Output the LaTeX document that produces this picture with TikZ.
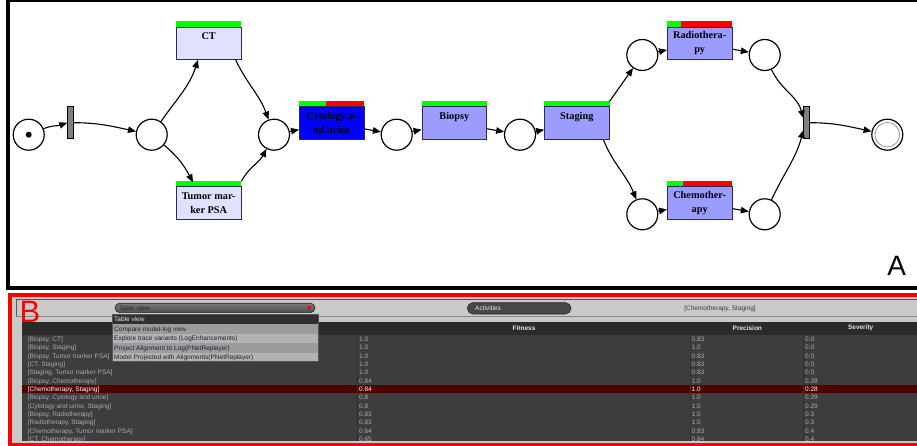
\documentclass[tikz,border=0pt]{standalone}
\usepackage{fontspec}
\setmainfont{Liberation Serif}
\newfontfamily\uifont{Liberation Sans}
\usetikzlibrary{arrows.meta,calc}
\definecolor{lavlight}{HTML}{E0E0FF}
\definecolor{lavmid}{HTML}{9C9CFF}
\definecolor{pureblue}{HTML}{0000FF}
\definecolor{boxborder}{HTML}{2A2A5A}
\definecolor{bargreen}{HTML}{00FF00}
\definecolor{barred}{HTML}{FF0000}
\definecolor{bargray}{HTML}{808080}
\definecolor{panelgray}{HTML}{C9C9C9}
\definecolor{linegray}{HTML}{555555}
\definecolor{thead}{HTML}{2B2B2B}
\definecolor{rowbg}{HTML}{3D3D3D}
\definecolor{hilite}{HTML}{520000}
\definecolor{sepcol}{HTML}{333333}
\definecolor{rowtext}{HTML}{A8AAB8}
\definecolor{valtext}{HTML}{ABABAB}
\definecolor{hdrtext}{HTML}{E4E4E4}
\definecolor{menudark}{HTML}{303030}
\definecolor{menumid}{HTML}{9C9C9C}
\definecolor{menulight}{HTML}{B3B3B3}
\definecolor{menutext}{HTML}{20202E}
\definecolor{pilltop}{HTML}{7A7A7A}
\definecolor{pillbot}{HTML}{4C4C4C}
\definecolor{pillborder}{HTML}{2A2A2A}
\definecolor{actfill}{HTML}{474747}
\definecolor{labeltext}{HTML}{3A3A4E}
\newcommand{\fitbar}[2]{%
  \fill[bargreen] (#1.north west) rectangle ($(#1.north west)!#2!(#1.north east)+(0,5.3)$);
  \fill[barred] ($(#1.north west)!#2!(#1.north east)$) rectangle ($(#1.north east)+(0,5.3)$);}
\begin{document}
\begin{tikzpicture}[x=1pt,y=1pt,
  place/.style={circle,draw=black,line width=1.2pt,fill=white,minimum size=31pt,inner sep=0pt},
  trans/.style={rectangle,draw=boxborder,line width=0.9pt,minimum width=64.5pt,minimum height=32.3pt,
    inner sep=0pt,align=center,font=\bfseries\fontsize{10.3}{14.3}\selectfont},
  tbar/.style={rectangle,draw=black,fill=bargray,line width=0.8pt,minimum width=5.3pt,minimum height=32pt,inner sep=0pt},
  arc/.style={-{Triangle[length=8pt,width=6.5pt]},line width=1.1pt},
  ui/.style={font=\uifont\fontsize{6.5}{7}\selectfont,inner sep=0pt},
  rowlab/.style={ui,text=rowtext,anchor=mid west},
  rowval/.style={ui,text=valtext,anchor=mid west},
  hdr/.style={ui,text=hdrtext,font=\uifont\bfseries\fontsize{6.5}{7}\selectfont},
  menuitem/.style={ui,text=menutext,anchor=mid west},
  biglabel/.style={font=\uifont\fontsize{28}{30}\selectfont,inner sep=0pt}]
\useasboundingbox (0,0) rectangle (917,-446);
\clip (0,0) rectangle (917,-446);
\fill[white] (0,0) rectangle (917,-446);

% ---------------- Panel A ----------------
\draw[line width=3.5pt] (8,-0.5) rectangle (925,-288);

\node[place] (p0) at (28.7,-134.7) {};
\node[circle,fill=black,minimum size=6pt,inner sep=0pt] (tok) at (p0) {};
\node[tbar] (t1) at (70.3,-122.7) {};
\node[place] (p1) at (151.7,-134.7) {};
\node[trans,fill=lavlight] (ct) at (208.7,-43.3) {CT\\~};
\node[trans,fill=lavlight] (tum) at (208.7,-202.9) {Tumor mar-\\ker PSA};
\node[place] (p2) at (274,-134.7) {};
\node[trans,fill=pureblue] (cyt) at (331.7,-123) {Cytology a-\\nd urine};
\node[place] (p3) at (396.7,-134.7) {};
\node[trans,fill=lavmid] (bio) at (454.3,-123) {Biopsy\\~};
\node[place] (p4) at (520,-134.7) {};
\node[trans,fill=lavmid] (stg) at (576.8,-123) {Staging\\~};
\node[place] (p5) at (642.3,-55) {};
\node[place] (p6) at (642.3,-214.3) {};
\node[trans,fill=lavmid] (rad) at (699.7,-43.3) {Radiothera-\\py};
\node[trans,fill=lavmid] (chm) at (699.7,-202.9) {Chemother-\\apy};
\node[place] (p7) at (764.7,-55) {};
\node[place] (p8) at (764.7,-214.3) {};
\node[tbar] (t2) at (806.5,-122.7) {};
\node[place] (pend) at (887.3,-134.7) {};
\draw[line width=0.6pt,gray] (pend) circle (12.3pt);

\fitbar{ct}{1}
\fitbar{tum}{1}
\fitbar{cyt}{0.42}
\fitbar{bio}{1}
\fitbar{stg}{1}
\fitbar{rad}{0.22}
\fitbar{chm}{0.25}

\draw[arc] (p0) to[out=22,in=200] (t1.west);
\draw[arc] (t1.east) to[out=0,in=168] (p1);
\draw[arc] (p1) to[out=55,in=-108] ([xshift=-10.7pt]ct.south);
\draw[arc] (p1) to[out=-40,in=118] ([xshift=-15.7pt,yshift=4pt]tum.north);
\draw[arc] ([xshift=27pt]ct.south) to[out=-65,in=110] (p2);
\draw[arc] ([yshift=5pt]tum.north east) to[out=62,in=-118] (p2);
\draw[arc] (p2) -- (cyt);
\draw[arc] (cyt) -- (p3);
\draw[arc] (p3) -- (bio);
\draw[arc] (bio) -- (p4);
\draw[arc] (p4) -- (stg);
\draw[arc] ([yshift=5pt]stg.north east) -- (p5);
\draw[arc] ([xshift=26.5pt]stg.south) to[out=-68,in=112] (p6);
\draw[arc] (p5) -- (rad);
\draw[arc] (rad) -- (p7);
\draw[arc] (p6) -- (chm);
\draw[arc] (chm) -- (p8);
\draw[arc] (p7) to[out=-65,in=105] ([yshift=4.4pt]t2.west);
\draw[arc] (p8) to[out=65,in=-105] ([yshift=-7.3pt]t2.west);
\draw[arc] (t2.east) to[out=0,in=168] (pend);

\node[biglabel] (labA) at (896.7,-265.5) {A};

% ---------------- Panel B ----------------
\fill[panelgray] (10,-295) rectangle (925,-444.5);
\draw[linegray,line width=0.8pt] (16,-317) |- (925,-299.3);
\draw[linegray!70,line width=0.6pt] (16,-316.7) -- (925,-316.7);
\fill[thead] (21.7,-321.7) rectangle (925,-335);
\fill[rowbg] (21.7,-335) rectangle (925,-441.3);
\fill[hilite] (21.7,-385.2) rectangle (925,-393.4);
\draw[sepcol,line width=0.6pt] (357.3,-335) -- (357.3,-441.3);
\draw[sepcol,line width=0.6pt] (690,-335) -- (690,-441.3);
\draw[sepcol,line width=0.6pt] (803.5,-335) -- (803.5,-441.3);

\node[hdr] (hfit) at (524,-327.8) {Fitness};
\node[hdr] (hpre) at (747.3,-327.8) {Precision};
\node[hdr] (hsev) at (860.7,-327.8) {Severity};

\begin{scope}
\clip (21.7,-335) rectangle (925,-441.3);
\foreach \k/\lab/\fit/\pre/\sev in {
  0/{[Biopsy, CT]}/1.0/0.83/0.0,
  1/{[Biopsy, Staging]}/1.0/1.0/0.0,
  2/{[Biopsy, Tumor marker PSA]}/1.0/0.83/0.0,
  3/{[CT, Staging]}/1.0/0.83/0.0,
  4/{[Staging, Tumor marker PSA]}/1.0/0.83/0.0,
  5/{[Biopsy, Chemotherapy]}/0.84/1.0/0.28,
  7/{[Biopsy, Cytology and urine]}/0.8/1.0/0.29,
  8/{[Cytology and urine, Staging]}/0.8/1.0/0.29,
  9/{[Biopsy, Radiotherapy]}/0.83/1.0/0.3,
  10/{[Radiotherapy, Staging]}/0.83/1.0/0.3,
  11/{[Chemotherapy, Tumor marker PSA]}/0.64/0.83/0.4,
  12/{[CT, Chemotherapy]}/0.65/0.84/0.4}{
  \node[rowlab] (lab\k) at (27.7,{-339.3-\k*8.33}) {\lab};
  \node[rowval] (fit\k) at (359,{-339.3-\k*8.33}) {\fit};
  \node[rowval] (pre\k) at (691.5,{-339.3-\k*8.33}) {\pre};
  \node[rowval] (sev\k) at (805,{-339.3-\k*8.33}) {\sev};
}
\node[rowlab,text=white] (lab6) at (27.7,-389.3) {[Chemotherapy, Staging]};
\node[rowval,text=white] (fit6) at (359,-389.3) {0.84};
\node[rowval,text=white] (pre6) at (691.5,-389.3) {1.0};
\node[rowval,text=white] (sev6) at (805,-389.3) {0.28};
\end{scope}

% dropdown
\shade[top color=pilltop,bottom color=pillbot,draw=pillborder,line width=0.6pt,rounded corners=4.6pt]
  (115,-303.2) rectangle (315,-312.6);
\node[ui,text=black!85,anchor=mid west] (dd) at (119,-308) {Table view};
\fill[barred] (306.6,-306) -- (311.4,-306) -- (309,-310.2) -- cycle;
\fill[menudark] (112.3,-314.7) rectangle (318.3,-324.4);
\fill[menumid] (112.3,-324.4) rectangle (318.3,-333.8);
\fill[menulight] (112.3,-333.8) rectangle (318.3,-343.1);
\fill[menumid] (112.3,-343.1) rectangle (318.3,-352.5);
\fill[menulight] (112.3,-352.5) rectangle (318.3,-361.7);
\draw[linegray,line width=0.5pt] (112.3,-314.7) rectangle (318.3,-361.7);
\node[menuitem,text=hdrtext] (m1) at (114,-319.7) {Table view};
\node[menuitem] (m2) at (114,-329.2) {Compare model-log view};
\node[menuitem] (m3) at (114,-338.5) {Explore trace variants (LogEnhancements)};
\node[menuitem] (m4) at (114,-347.8) {Project Alignment to Log(PNetReplayer)};
\node[menuitem] (m5) at (114,-357.2) {Model Projected with Alignments(PNetReplayer)};

% activities
\draw[fill=actfill,draw=pillborder,line width=0.6pt,rounded corners=5.5pt] (467.3,-302.7) rectangle (571,-314);
\node[ui,text=hdrtext,anchor=mid west] (act) at (475,-308.4) {Activities};
\node[ui,text=labeltext] (sel) at (720,-309) {[Chemotherapy, Staging]};

\draw[barred,line width=3.5pt] (10,-295) rectangle (925,-444.5);
\node[biglabel,text=barred,font=\uifont\fontsize{31}{33}\selectfont] (labB) at (30,-311.8) {B};
\end{tikzpicture}
\end{document}
